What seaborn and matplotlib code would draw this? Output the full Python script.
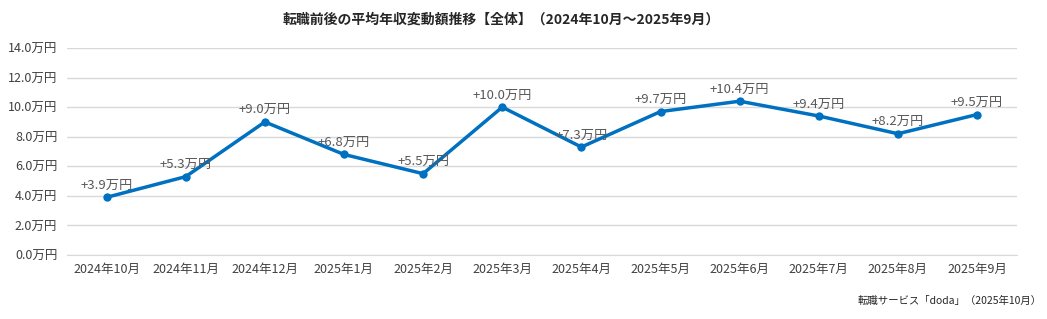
import matplotlib
matplotlib.use("Agg")
import matplotlib.pyplot as plt
import seaborn as sns
import pandas as pd
import numpy as np

months = ["2024年10月", "2024年11月", "2024年12月", "2025年1月", "2025年2月", "2025年3月",
          "2025年4月", "2025年5月", "2025年6月", "2025年7月", "2025年8月", "2025年9月"]
values = [3.9, 5.3, 9.0, 6.8, 5.5, 10.0, 7.3, 9.7, 10.4, 9.4, 8.2, 9.5]
yticks = [0, 2, 4, 6, 8, 10, 12, 14]
title = "転職前後の平均年収変動額推移【全体】（2024年10月～2025年9月）"
source = "転職サービス「doda」（2025年10月）"

sns.set_style("white")
plt.rcParams['font.family'] = ['Noto Sans CJK JP', 'DejaVu Sans']

df = pd.DataFrame({"month": months, "value": values})
df["pos"] = np.arange(len(months))

fig = plt.figure(figsize=(10.47, 3.19), dpi=100)
ax = fig.add_axes([0.064, 0.2006, 0.907, 0.649])

sns.lineplot(data=df, x="pos", y="value", ax=ax, color="#0070C0", linewidth=2.5,
             marker="o", markersize=6, markeredgewidth=0)

for x, v in zip(df["pos"], df["value"]):
    ax.annotate(f"+{v:.1f}万円", (x, v), xytext=(0, 4), textcoords="offset points",
                ha="center", va="bottom", fontsize=9.5, color="#595959")

ax.set_xlim(-0.5, len(months) - 0.5)
ax.set_ylim(0, 14)
ax.set_yticks(yticks)
ax.set_yticklabels([f"{t:.1f}万円" for t in yticks], fontsize=9, color="#404040")
ax.set_xticks(df["pos"])
ax.set_xticklabels(months, fontsize=9, color="#404040")
ax.set_xticks(np.arange(-0.5, len(months)), minor=True)
ax.tick_params(axis="x", which="major", length=0, pad=6)
ax.tick_params(axis="x", which="minor", length=5, color="#D9D9D9", width=1)
ax.tick_params(axis="y", length=0, pad=7)
ax.grid(axis="y", color="#D9D9D9", linewidth=1)
ax.set_axisbelow(True)
for s in ["top", "right", "left"]:
    ax.spines[s].set_visible(False)
ax.spines["bottom"].set_color("#D9D9D9")
ax.set_xlabel("")
ax.set_ylabel("")

fig.text(0.479, 0.94, title, ha="center", va="center", fontsize=10, fontweight="bold", color="#262626")
fig.text(0.995, 0.058, source, ha="right", va="center", fontsize=7.5, color="#262626")

fig.savefig("out.png", dpi=100)
